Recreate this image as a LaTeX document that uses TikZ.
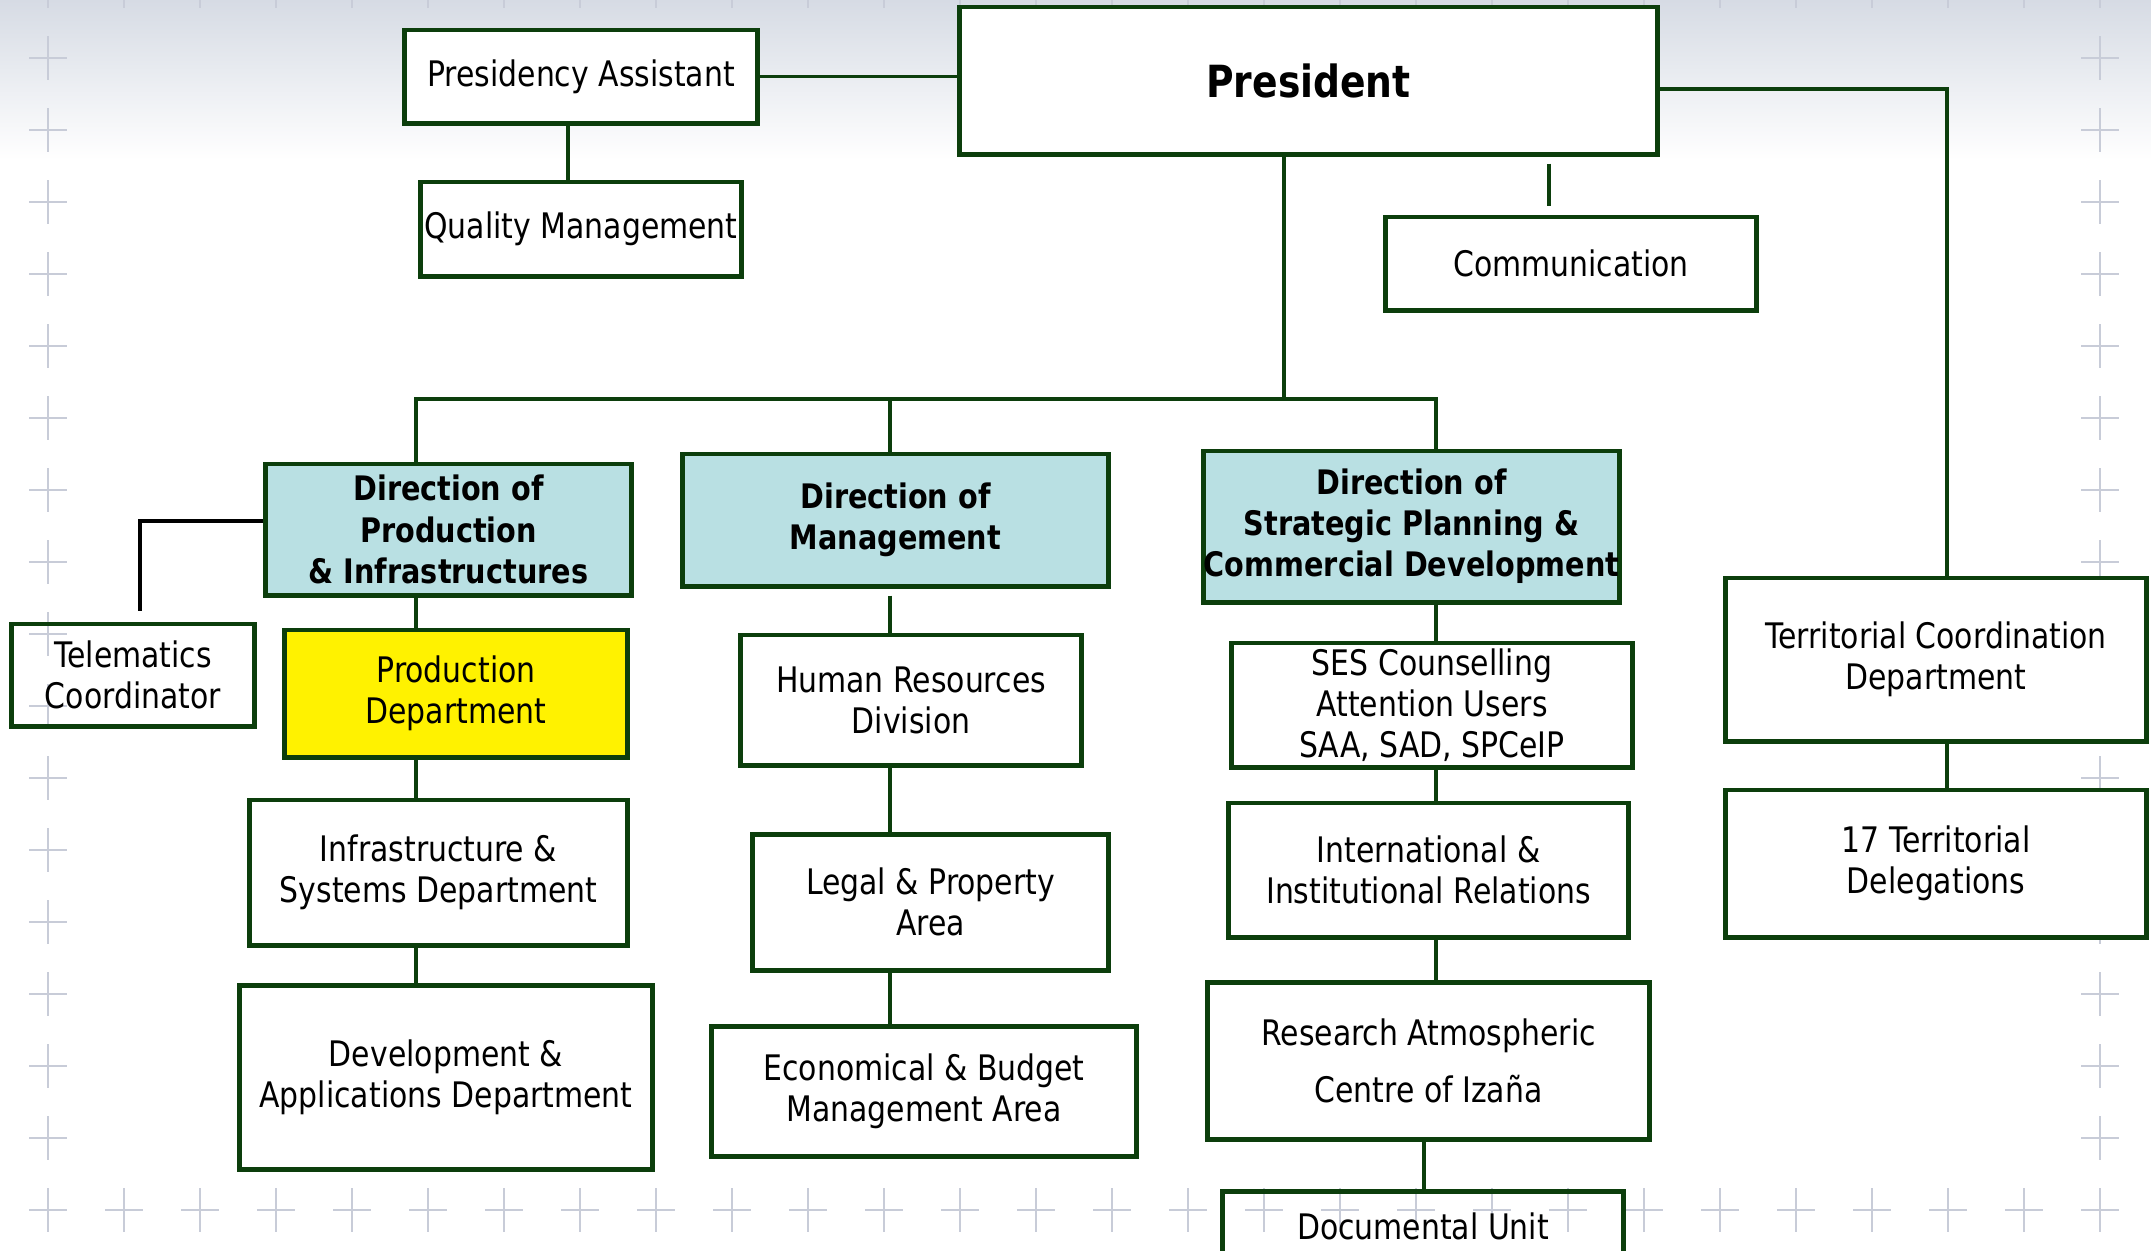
\documentclass[tikz,border=0pt]{standalone}
\usepackage{fontspec}
\setmainfont{DejaVu Sans}[FakeStretch=0.85]
\usetikzlibrary{positioning}
\definecolor{orggreen}{RGB}{12,62,12}
\definecolor{dirblue}{RGB}{185,224,227}
\definecolor{crossgray}{RGB}{200,204,216}
\definecolor{skygray}{RGB}{214,219,228}

\begin{document}
\begin{tikzpicture}[x=0.01cm,y=-0.01cm,font=\fontsize{10}{11.7}\selectfont]
	\tikzstyle{box}=[draw=orggreen, line width=1.4pt, fill=white, rectangle, align=center, inner sep=0pt]
	\tikzstyle{dir}=[box, fill=dirblue, font=\fontsize{9.6}{11.7}\selectfont\bfseries]
	\tikzstyle{link}=[draw=orggreen, line width=1.1pt]
	\tikzstyle{crossmark}=[draw=crossgray, line width=0.7pt]

	% background
	\useasboundingbox (0,0) rectangle (2151,1250);
	\clip (0,0) rectangle (2151,1250);
	\fill[white] (0,0) rectangle (2151,1250);
	\shade[top color=skygray, bottom color=white] (0,0) rectangle (2151,160);
	\foreach \yy in {-14,58,...,1210}
		\foreach \xx in {48,2100}
			\draw[crossmark] (\xx-19,\yy) -- (\xx+19,\yy) (\xx,\yy-22) -- (\xx,\yy+22);
	\foreach \xx in {48,124,...,2100}
		\foreach \yy in {-14,1210}
			\draw[crossmark] (\xx-19,\yy) -- (\xx+19,\yy) (\xx,\yy-22) -- (\xx,\yy+22);

	\node[box, font=\fontsize{12.6}{14}\selectfont\bfseries, minimum width=6.97cm, minimum height=1.47cm] (pres) at (1308.5,80.5) {President};
	\node[box, minimum width=3.52cm, minimum height=0.93cm] (pa) at (581,76.5) {Presidency Assistant};
	\node[box, minimum width=3.2cm, minimum height=0.94cm] (qm) [below=0.54cm of pa] {Quality Management};
	\node[box, minimum width=3.7cm, minimum height=0.93cm] (com) at (1571,263.5) {Communication};

	\node[dir, minimum width=3.65cm, minimum height=1.31cm] (dpi) at (448.5,529.5) {Direction of\\Production\\\& Infrastructures};
	\node[dir, minimum width=4.25cm, minimum height=1.32cm] (dm) at (895.5,520) {Direction of\\Management};
	\node[dir, minimum width=4.15cm, minimum height=1.51cm] (dsp) at (1411.5,526.5) {Direction of\\Strategic Planning \&\\Commercial Development};

	\node[box, fill=none, minimum width=2.42cm, minimum height=1.02cm] (tel) at (133,675) {Telematics\\Coordinator};
	\node[box, fill=yellow, minimum width=3.42cm, minimum height=1.27cm] (pd) [below=0.3cm of dpi, xshift=0.075cm] {Production\\Department};
	\node[box, minimum width=3.77cm, minimum height=1.45cm] (isd) [below=0.38cm of pd, xshift=-0.175cm] {Infrastructure \&\\Systems Department};
	\node[box, minimum width=4.12cm, minimum height=1.84cm] (dad) [below=0.35cm of isd, xshift=0.075cm] {Development \&\\Applications Department};

	\node[box, minimum width=3.4cm, minimum height=1.3cm] (hr) [below=0.44cm of dm, xshift=0.155cm] {Human Resources\\Division};
	\node[box, minimum width=3.55cm, minimum height=1.36cm] (lp) [below=0.64cm of hr, xshift=0.195cm] {Legal \& Property\\Area};
	\node[box, minimum width=4.24cm, minimum height=1.3cm] (eb) [below=0.51cm of lp, xshift=-0.065cm] {Economical \& Budget\\Management Area};

	\node[box, minimum width=4cm, minimum height=1.24cm] (ses) [below=0.36cm of dsp, xshift=0.205cm] {SES Counselling\\Attention Users\\SAA, SAD, SPCeIP};
	\node[box, minimum width=3.99cm, minimum height=1.34cm] (irel) [below=0.31cm of ses, xshift=-0.035cm] {International \&\\Institutional Relations};
	\node[box, minimum width=4.42cm, minimum height=1.57cm] (rac) [below=0.4cm of irel] {Research Atmospheric\\[4.6pt]Centre of Izaña};
	\node[box, fill=none, minimum width=4.01cm, minimum height=0.7cm] (doc) [below=0.47cm of rac, xshift=-0.055cm] {Documental Unit};

	\node[box, minimum width=4.2cm, minimum height=1.63cm] (tcd) at (1936,659.5) {Territorial Coordination\\Department};
	\node[box, minimum width=4.2cm, minimum height=1.47cm] (t17) [below=0.44cm of tcd] {17 Territorial\\Delegations};

	\coordinate (bus) at (1284,399);
	\coordinate (c1) at (416,399);
	\coordinate (c2) at (890,399);
	\coordinate (c3) at (1436,399);
	\coordinate (c4) at (1549,0);
	\coordinate (c5) at (1424,0);
	\coordinate (c6) at (1947,89);
	\coordinate (c7) at (140,521);
	\coordinate (c8) at (568,0);

	\draw[link] (pa.east) -- (pa.east -| pres.west);
	\draw[link] (c8 |- pa.south) -- (c8 |- qm.north);
	\draw[link, shorten <=2pt, shorten >=2.5pt] (c4 |- pres.south) -- (c4 |- com.north);
	\draw[link] (pres.east |- c6) -- (c6) -- (c6 |- tcd.north);
	\draw[link] (c6 |- tcd.south) -- (c6 |- t17.north);

	\draw[link] (pres.south -| bus) -- (bus);
	\draw[link] (c1 |- dpi.north) -- (c1) -- (c3) -- (c3 |- dsp.north);
	\draw[link] (c2) -- (c2 |- dm.north);

	\draw[line width=0.9pt, shorten >=3pt] (dpi.west |- c7) -- (c7) -- (c7 |- tel.north);
	\draw[link] (c1 |- dpi.south) -- (c1 |- pd.north);
	\draw[link] (c1 |- pd.south) -- (c1 |- isd.north);
	\draw[link] (c1 |- isd.south) -- (c1 |- dad.north);

	\draw[link, shorten <=2pt] (c2 |- dm.south) -- (c2 |- hr.north);
	\draw[link] (c2 |- hr.south) -- (c2 |- lp.north);
	\draw[link] (c2 |- lp.south) -- (c2 |- eb.north);

	\draw[link] (c3 |- dsp.south) -- (c3 |- ses.north);
	\draw[link] (c3 |- ses.south) -- (c3 |- irel.north);
	\draw[link] (c3 |- irel.south) -- (c3 |- rac.north);
	\draw[link] (c5 |- rac.south) -- (c5 |- doc.north);
\end{tikzpicture}
\end{document}
